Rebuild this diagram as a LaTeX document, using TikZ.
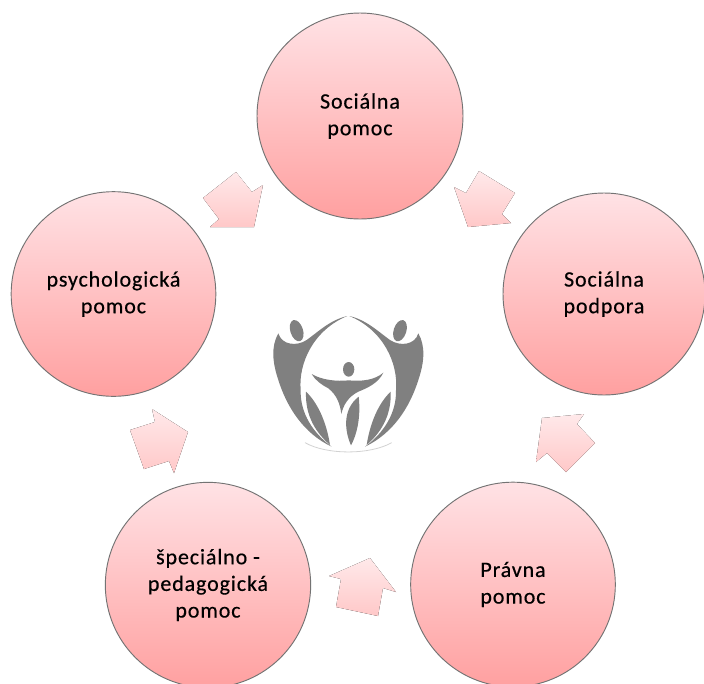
\documentclass[tikz,border=0pt]{standalone}
\usepackage{fontspec}
\setmainfont[LetterSpace=4,FakeBold=0.4]{Carlito}
\usepackage{tikz}
\definecolor{discTop}{RGB}{255,226,229}
\definecolor{discBottom}{RGB}{255,160,160}
\definecolor{blockTop}{RGB}{255,233,234}
\definecolor{blockBottom}{RGB}{255,200,200}
\definecolor{logoGray}{RGB}{128,128,128}
\tikzset{
	disc/.style={circle, draw=gray!90!black, line width=0.7pt, top color=discTop, bottom color=discBottom, inner sep=0pt, align=center, font=\fontsize{16.5}{20}\selectfont},
	block/.style={top color=blockTop, bottom color=blockBottom, draw=none},
	logo/.style={fill=logoGray, draw=none}
}

\begin{document}
\begin{tikzpicture}[x=0.75pt, y=-0.75pt]
	\useasboundingbox (0,0) rectangle (704,683);

	% The Discs
	\node[disc, minimum size=154.5pt] (social) at (360,116) {Sociálna\\pomoc};
	\node[disc, minimum size=151.5pt] (support) at (604,294) {Sociálna\\podpora};
	\node[disc, minimum size=153.5pt] (law) at (513,584.5) {Právna\\pomoc};
	\node[disc, minimum size=154pt] (special) at (208,585) {špeciálno -\\pedagogická\\pomoc};
	\node[disc, minimum size=153.5pt] (psych) at (113.5,294) {psychologická\\pomoc};

	% Block Arrows
	\fill[block] (236,172) -- (252,192) -- (263,185) -- (254,227) -- (210,227) -- (219,219) -- (203,198) -- cycle; % to social
	\fill[block] (479,171) -- (515,193) -- (502,214) -- (511,223) -- (468,227) -- (454,187) -- (466,193) -- cycle; % to support
	\fill[block] (542,418) -- (584,414) -- (577,424) -- (595,443) -- (566,472) -- (547,453) -- (536,462) -- cycle; % to law side
	\fill[block] (370,558) -- (396,592) -- (383,588) -- (378,616) -- (336,607) -- (341,579) -- (329,576) -- cycle; % to special side
	\fill[block] (152,409) -- (155,422) -- (130,430) -- (144,469) -- (169,461) -- (174,473) -- (188,432) -- cycle; % to psych

	% Logo, in a finer grid
	\begin{scope}[shift={(250,300)}, x=0.25pt, y=-0.25pt]
		% Side figures
		\foreach \side in {1,-1} {
			\begin{scope}[xshift=73.75pt, xscale=\side, xshift=-73.75pt]
				\fill[logo, rotate around={18:(140,92)}] (140,92) ellipse (19 and 33);
				\fill[logo] (292,48) .. controls (240,60) and (205,95) .. (170,120)
					.. controls (140,140) and (95,135) .. (85,100)
					.. controls (62,140) and (68,190) .. (85,240)
					.. controls (110,320) and (160,400) .. (245,440)
					.. controls (190,400) and (150,340) .. (152,270)
					.. controls (145,190) and (190,90) .. (292,48) -- cycle;
				\fill[logo] (168,275) .. controls (205,310) and (230,370) .. (240,435)
					.. controls (200,400) and (165,350) .. (168,275) -- cycle;
			\end{scope}
		}
		% Middle figure
		\fill[logo] (296,208) ellipse (17 and 22);
		\fill[logo] (185,222) .. controls (215,240) and (260,245) .. (296,241)
			.. controls (335,245) and (375,240) .. (400,218)
			.. controls (385,250) and (350,265) .. (325,275)
			.. controls (295,290) and (280,315) .. (274,342)
			.. controls (270,310) and (260,285) .. (235,265)
			.. controls (215,255) and (195,240) .. (185,222) -- cycle;
		\fill[logo] (326,290) .. controls (332,340) and (325,395) .. (303,436)
			.. controls (285,395) and (275,330) .. (326,290) -- cycle;
		% Foot of the logo
		\draw[gray!35, line width=0.6pt] (165,428) .. controls (230,465) and (360,465) .. (425,428);
	\end{scope}
\end{tikzpicture}
\end{document}
